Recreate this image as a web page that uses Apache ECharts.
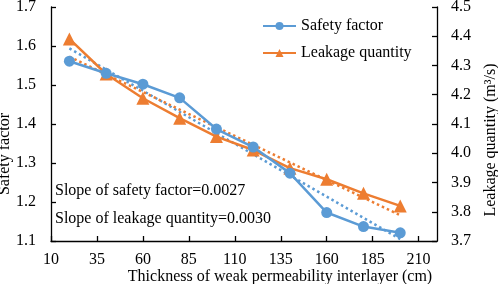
<!DOCTYPE html>
<html>
<head>
<meta charset="utf-8">
<script src="https://cdn.jsdelivr.net/npm/echarts@6/dist/echarts.min.js"></script>
<style>html,body{margin:0;padding:0;background:#fff}#c{width:498px;height:284px}</style>
</head>
<body>
<div id="c"></div>
<script>
const thickness = [20, 40, 60, 80, 100, 120, 140, 160, 180, 200];
const safetyFactor = [1.561, 1.530, 1.502, 1.467, 1.387, 1.341, 1.274, 1.173, 1.137, 1.121];
const leakageQuantity = [4.391, 4.271, 4.188, 4.120, 4.057, 4.011, 3.949, 3.911, 3.863, 3.820];
const trendX = [20, 200];
const safetyTrend = [1.594, 1.105];
const leakageTrend = [4.330, 3.788];
const xTicks = [10, 35, 60, 85, 110, 135, 160, 185, 210];
const annotations = ['Slope of safety factor=0.0027', 'Slope of leakage quantity=0.0030'];

const FONT = 'Liberation Serif';
const BLUE = '#5B9BD5';
const ORANGE = '#ED7D31';
const pair = (xs, ys) => xs.map((x, i) => [x, ys[i]]);

const chart = echarts.init(document.getElementById('c'), null, {renderer: 'canvas'});
chart.setOption({
  animation: false,
  backgroundColor: '#fff',
  textStyle: {fontFamily: FONT, color: '#000'},
  grid: {left: 51, right: 61, top: 7, bottom: 43, containLabel: false, outerBoundsMode: 'none'},
  legend: {
    orient: 'vertical', left: 262, top: 18, padding: 0, itemWidth: 33, itemHeight: 10, itemGap: 11,
    data: ['Safety factor', 'Leakage quantity'],
    textStyle: {fontFamily: FONT, fontSize: 16, color: '#000'}
  },
  xAxis: {
    type: 'value', min: 10, max: 220,
    name: 'Thickness of weak permeability interlayer (cm)', nameLocation: 'middle', nameGap: 28,
    nameMoveOverlap: false,
    nameTextStyle: {fontFamily: FONT, fontSize: 16, color: '#000', padding: [0, 0, 0, 72]},
    axisLine: {lineStyle: {color: '#000', width: 1.3}},
    axisTick: {inside: true, length: 5, lineStyle: {color: '#000', width: 1.3}, customValues: xTicks},
    axisLabel: {fontFamily: FONT, fontSize: 16, color: '#000', margin: 11, customValues: xTicks},
    splitLine: {show: false}
  },
  yAxis: [{
    type: 'value', min: 1.1, max: 1.7, interval: 0.1, position: 'left',
    name: 'Safety factor', nameLocation: 'middle', nameGap: 38, nameRotate: 90,
    nameMoveOverlap: false,
    nameTextStyle: {fontFamily: FONT, fontSize: 16, color: '#000', padding: [0, 60, 0, 0]},
    axisLine: {show: true, lineStyle: {color: '#000', width: 1.3}},
    axisTick: {show: true, inside: true, length: 5, lineStyle: {color: '#000', width: 1.3}},
    axisLabel: {fontFamily: FONT, fontSize: 16, color: '#000', margin: 15, formatter: v => v.toFixed(1)},
    splitLine: {show: false}
  }, {
    type: 'value', min: 3.7, max: 4.5, interval: 0.1, position: 'right',
    name: 'Leakage quantity (m³/s)', nameLocation: 'middle', nameGap: 46, nameRotate: 90,
    nameMoveOverlap: false,
    nameTextStyle: {fontFamily: FONT, fontSize: 16, color: '#000', padding: [0, 32, 0, 0]},
    axisLine: {show: true, lineStyle: {color: '#000', width: 1.3}},
    axisTick: {show: true, inside: true, length: 5, lineStyle: {color: '#000', width: 1.3}},
    axisLabel: {fontFamily: FONT, fontSize: 16, color: '#000', margin: 14, formatter: v => v.toFixed(1)},
    splitLine: {show: false}
  }],
  series: [{
    name: 'Safety factor trend', type: 'line', yAxisIndex: 0, data: pair(trendX, safetyTrend),
    showSymbol: false, silent: true, z: 1,
    lineStyle: {color: BLUE, width: 2.5, type: [2.5, 3], cap: 'butt'}
  }, {
    name: 'Leakage quantity trend', type: 'line', yAxisIndex: 1, data: pair(trendX, leakageTrend),
    showSymbol: false, silent: true, z: 1,
    lineStyle: {color: ORANGE, width: 2.5, type: [2.5, 3], cap: 'butt'}
  }, {
    name: 'Safety factor', type: 'line', yAxisIndex: 0, data: pair(thickness, safetyFactor),
    symbol: 'circle', symbolSize: 11, z: 3,
    itemStyle: {color: BLUE}, lineStyle: {color: BLUE, width: 2.5}
  }, {
    name: 'Leakage quantity', type: 'line', yAxisIndex: 1, data: pair(thickness, leakageQuantity),
    symbol: 'triangle', symbolSize: 13, z: 2,
    itemStyle: {color: ORANGE}, lineStyle: {color: ORANGE, width: 2.5}
  }],
  graphic: [{
    type: 'text', left: 55, top: 183,
    style: {text: annotations[0], fontFamily: FONT, fontSize: 16, fill: '#000'}
  }, {
    type: 'text', left: 55, top: 211,
    style: {text: annotations[1], fontFamily: FONT, fontSize: 16, fill: '#000'}
  }]
});
</script>
</body>
</html>
